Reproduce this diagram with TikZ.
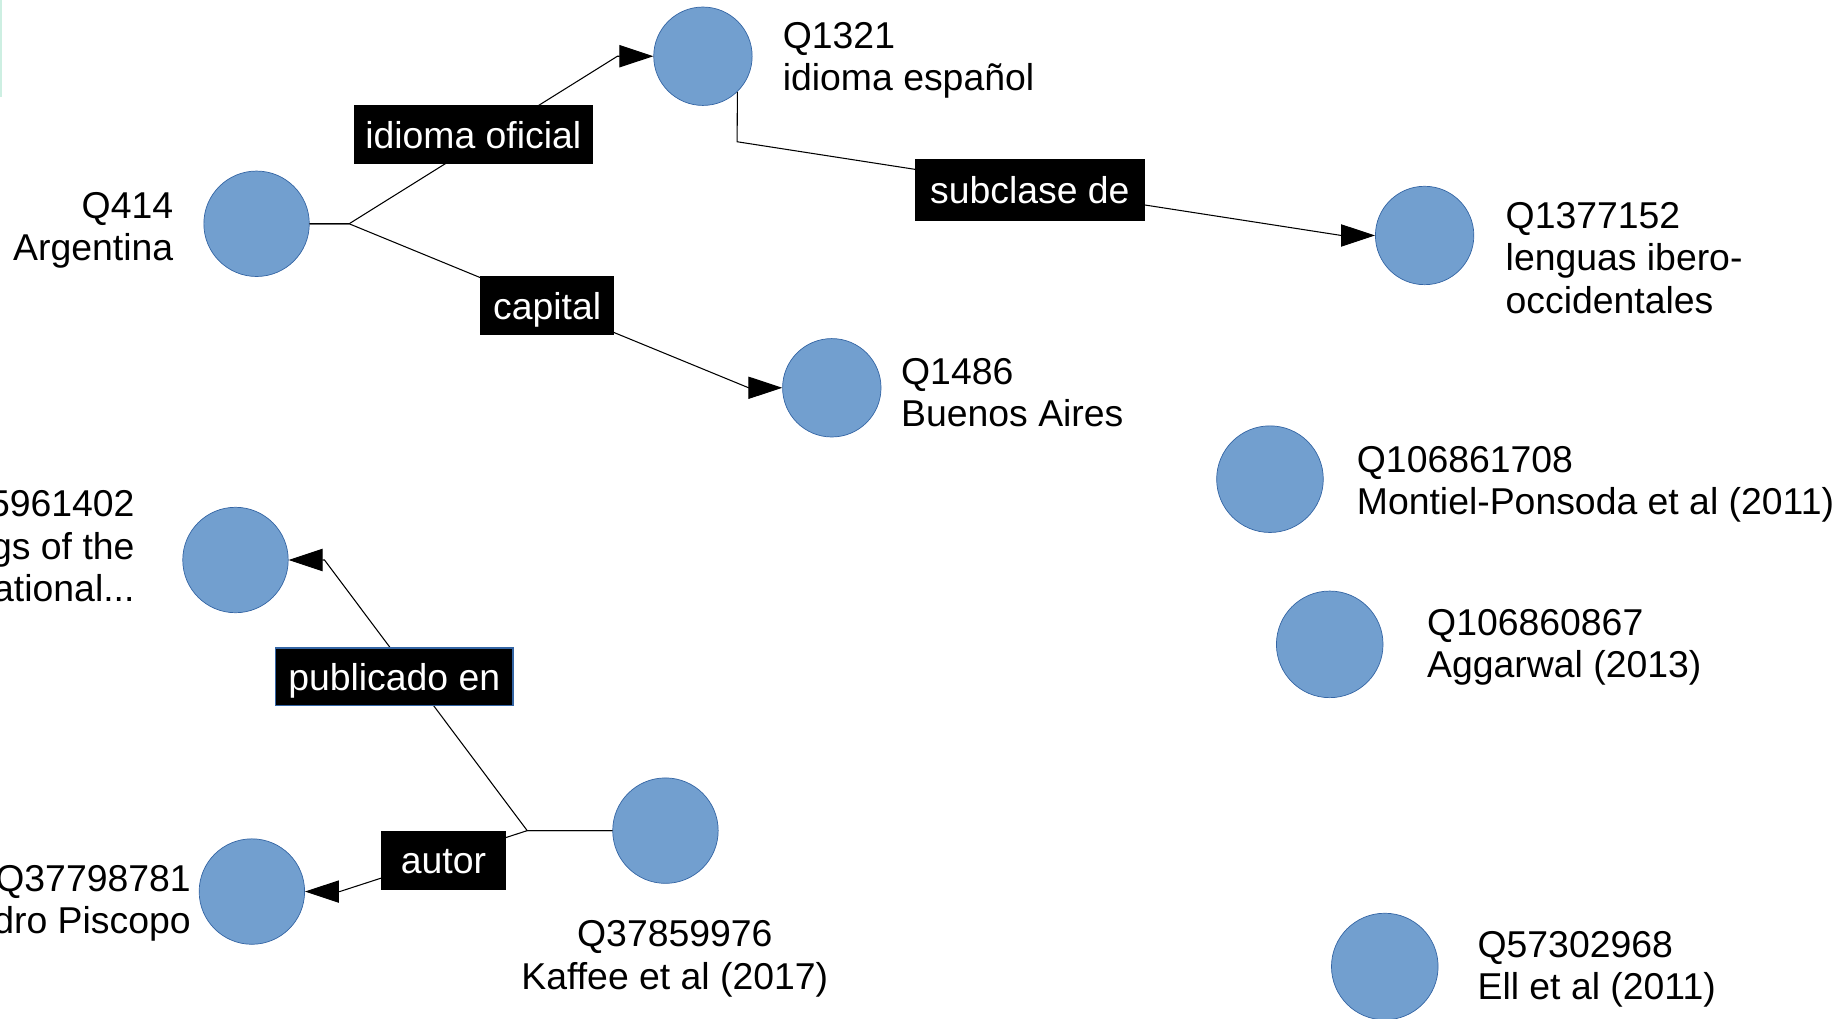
\documentclass[tikz,border=0pt]{standalone}
\usepackage{fontspec}
\setmainfont{Liberation Sans}
\usetikzlibrary{arrows.meta}
\definecolor{nodefill}{HTML}{729FCF}
\definecolor{nodeline}{HTML}{3465A4}
\definecolor{mint}{HTML}{CDEFE2}
\tikzset{
  ent/.style={circle, fill=nodefill, draw=nodeline, line width=0.6pt, inner sep=0pt, minimum size=#1},
  txt/.style={inner sep=0pt, font=\fontsize{31.9}{36}\selectfont},
  rel/.style={fill=black, text=white, inner sep=0pt, font=\fontsize{31.9}{36}\selectfont,
              text height=23pt, text depth=0pt, minimum height=50pt},
  conn/.style={draw=black, line width=0.9pt},
  arr/.style={conn, -{Triangle[length=29pt,width=19pt]}},
}
\begin{document}
\begin{tikzpicture}[x=1pt,y=-1pt]
\useasboundingbox (0,0) rectangle (1568,869);
\fill[mint] (0,0) rectangle (2,83);

% entities
\node[ent=90pt] (q414) at (219,191) {};
\node[ent=84pt] (q1321) at (600,48) {};
\node[ent=84pt] (q1486) at (710,331) {};
\node[ent=84pt] (q1377) at (1216,201) {};
\node[ent=91pt] (q1068a) at (1084,409) {};
\node[ent=91pt] (q1068b) at (1135,550) {};
\node[ent=91pt] (q573) at (1182,825) {};
\node[ent=90pt] (q596) at (201,478) {};
\node[ent=90pt] (q377) at (215,761) {};
\node[ent=90pt] (q378) at (568,709) {};

% entity texts
\node[txt, anchor=east, align=right] (t414) at (148,197) {\strut Q414\\\strut Argentina};
\node[txt, anchor=west, align=left] (t1321) at (668,52) {\strut Q1321\\\strut idioma español};
\node[txt, anchor=west, align=left] (t1377) at (1285,224) {\strut Q1377152\\\strut lenguas ibero-\\\strut occidentales};
\node[txt, anchor=west, align=left] (t1486) at (769,339) {\strut Q1486\\\strut Buenos Aires};
\node[txt, anchor=west, align=left] (t1068a) at (1158,414) {\strut Q106861708\\\strut Montiel-Ponsoda et al (2011)};
\node[txt, anchor=west, align=left] (t1068b) at (1218,553) {\strut Q106860867\\\strut Aggarwal (2013)};
\node[txt, anchor=west, align=left] (t573) at (1261,828) {\strut Q57302968\\\strut Ell et al (2011)};
\node[txt, anchor=east, align=right] (t596) at (115,470) {\strut 5961402\\\strut gs of the\\\strut ational...};
\node[txt, anchor=east, align=right] (t377) at (163,772) {\strut Q37798781\\\strut dro Piscopo};
\node[txt, anchor=center, align=center] (t378) at (576,819) {\strut Q37859976\\\strut Kaffee et al (2017)};

% bend points
\coordinate (b1) at (298,191);
\coordinate (a1) at (527,48);
\coordinate (c1) at (639,331);
\coordinate (s1) at (629.2,121);
\coordinate (s2) at (1145,201);
\coordinate (p1) at (450,709);
\coordinate (p2) at (277,478);
\coordinate (p3) at (290,761);

% connectors
\draw[arr] (q414.east) -- (b1) -- (a1) -- (q1321.west);
\draw[arr] (q414.east) -- (b1) -- (c1) -- (q1486.west);
\draw[arr] (q1321.-46) -- (s1) -- (s2) -- (q1377.west);
\draw[arr] (q378.west) -- (p1) -- (p2) -- (q596.east);
\draw[arr] (q378.west) -- (p1) -- (p3) -- (q377.east);

% relation labels
\node[rel, minimum width=204pt] (lidioma) at (404,115) {idioma oficial};
\node[rel, minimum width=114pt] (lcap) at (467,261) {capital};
\node[rel, minimum width=196pt, minimum height=53pt] (lsub) at (879,162.5) {subclase de};
\node[rel, minimum width=203pt, minimum height=49pt, draw=nodeline, line width=1.2pt] (lpub) at (336.5,577.5) {publicado en};
\node[rel, minimum width=107pt, minimum height=51pt] (laut) at (378.5,734.5) {autor};
\end{tikzpicture}
\end{document}
